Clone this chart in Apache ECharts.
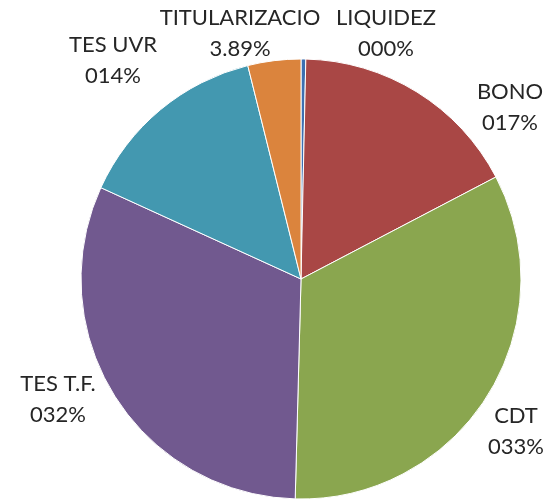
<!DOCTYPE html>
<html>
<head>
<meta charset="utf-8">
<script src="https://cdn.jsdelivr.net/npm/echarts@6/dist/echarts.min.js"></script>
<style>
  html, body { margin: 0; padding: 0; background: #fff; }
  #main { width: 551px; height: 500px; }
</style>
</head>
<body>
<div id="main"></div>
<script>
// datos del portafolio
var categorias = ['LIQUIDEZ', 'BONO', 'CDT', 'TES T.F.', 'TES UVR', 'TITULARIZACIO']
var valores = [0.35, 16.98, 33.1, 31.4, 14.3, 3.89]
var etiquetasPct = ['000%', '017%', '033%', '032%', '014%', '3.89%']

var colores = ['#3D70B1', '#A94745', '#8AA64F', '#71598F', '#4398B0', '#DB843D']
// posicion de cada etiqueta (centro del bloque de texto)
var posEtiquetas = [[386, 33], [510, 107], [516, 431], [58, 399], [113, 60], [240, 33]]

var myChart = echarts.init(document.getElementById('main'))

var option = {
    animation: false,
    series: [
        {
            type: 'pie',
            center: [301, 279],
            radius: 220,
            startAngle: 90,
            clockwise: true,
            avoidLabelOverlap: false,
            data: categorias.map(function (c, i) {
                return { name: c, value: valores[i], itemStyle: { color: colores[i] } }
            }),
            itemStyle: {
                borderColor: '#ffffff',
                borderWidth: 1
            },
            label: {
                show: true,
                position: 'outside',
                formatter: function (p) {
                    return p.name + '\n' + etiquetasPct[p.dataIndex]
                },
                fontFamily: 'Lato',
                fontSize: 22,
                lineHeight: 31,
                color: '#262626',
                align: 'center'
            },
            labelLine: { show: false },
            labelLayout: function (params) {
                var pos = posEtiquetas[params.dataIndex]
                return {
                    x: pos[0],
                    y: pos[1],
                    align: 'center',
                    verticalAlign: 'middle'
                }
            }
        }
    ]
}

myChart.setOption(option)
window.addEventListener('resize', function () {
    myChart.resize()
})
</script>
</body>
</html>
